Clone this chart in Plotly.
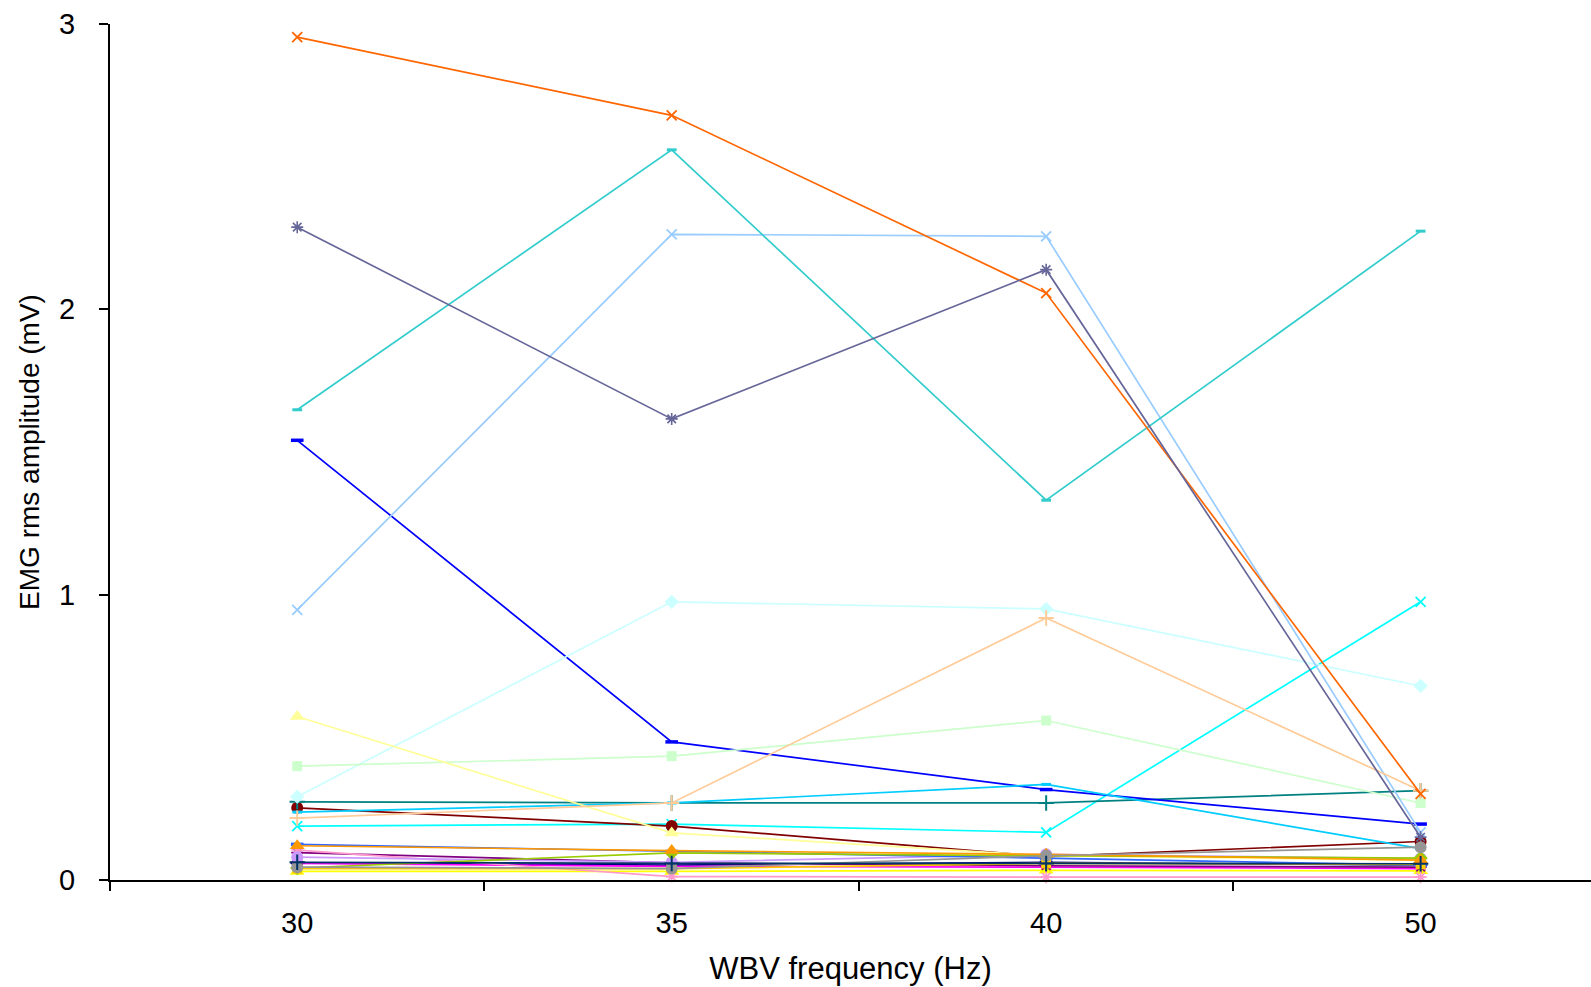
import plotly.graph_objects as go

# WBV frequency categories
frequencies = ["30", "35", "40", "50"]

# EMG rms amplitude (mV) per subject/muscle series
s01 = [0.060, 0.052, 0.062, 0.052]
s02 = [0.058, 0.048, 0.045, 0.040]
s03 = [0.030, 0.030, 0.034, 0.032]
s04 = [0.189, 0.196, 0.167, 0.975]
s05 = [0.096, 0.060, 0.050, 0.045]
s06 = [0.253, 0.189, 0.082, 0.135]
s07 = [0.274, 0.270, 0.270, 0.313]
s08 = [1.541, 0.484, 0.317, 0.196]
s09 = [0.238, 0.270, 0.335, 0.110]
s10 = [0.292, 0.975, 0.950, 0.680]
s11 = [0.399, 0.434, 0.559, 0.270]
s12 = [0.573, 0.165, 0.085, 0.070]
s13 = [0.947, 2.263, 2.256, 0.167]
s14 = [0.105, 0.012, 0.010, 0.010]
s15 = [0.080, 0.062, 0.090, 0.075]
s16 = [0.217, 0.270, 0.918, 0.313]
s17 = [0.125, 0.100, 0.075, 0.052]
s18 = [1.648, 2.559, 1.331, 2.274]
s19 = [0.042, 0.095, 0.085, 0.077]
s20 = [0.040, 0.040, 0.058, 0.055]
s21 = [0.120, 0.103, 0.090, 0.070]
s22 = [2.954, 2.680, 2.057, 0.302]
s23 = [2.288, 1.616, 2.139, 0.150]
s24 = [0.045, 0.040, 0.085, 0.115]
s25 = [0.062, 0.058, 0.058, 0.057]

series = [s01, s02, s03, s04, s05, s06, s07, s08, s09, s10, s11, s12, s13,
          s14, s15, s16, s17, s18, s19, s20, s21, s22, s23, s24, s25]

colors = ["#000080", "#FF00FF", "#FFFF00", "#00FFFF", "#800080", "#800000",
          "#008080", "#0000FF", "#00CCFF", "#CCFFFF", "#CCFFCC", "#FFFF99",
          "#99CCFF", "#FF99CC", "#CC99FF", "#FFCC99", "#3366FF", "#33CCCC",
          "#99CC00", "#FFCC00", "#FF9900", "#FF6600", "#666699", "#969696",
          "#003366"]

# marker cycle: (symbol, size, outline width)
marker_cycle = [
    ("diamond", 11, 0),
    ("square", 10, 0),
    ("triangle-up", 13, 0),
    ("x-thin", 10, 1.8),
    ("asterisk", 10, 1.6),
    ("circle", 12, 0),
    ("cross-thin", 11, 2),
    ("line-ew", 9, 3.5),
    ("line-ew", 7, 3),
]

fig = go.Figure()
for i, (vals, col) in enumerate(zip(series, colors)):
    sym, size, lw = marker_cycle[i % len(marker_cycle)]
    fig.add_trace(go.Scatter(
        x=frequencies, y=vals, mode="lines+markers",
        line=dict(color=col, width=1.7),
        marker=dict(symbol=sym, size=size, color=col,
                    line=dict(color=col, width=lw)),
        cliponaxis=False, showlegend=False,
    ))

font = "Liberation Sans, Arial, sans-serif"
fig.update_layout(
    width=1591, height=987,
    margin=dict(l=110, r=0, t=24, b=107),
    paper_bgcolor="white", plot_bgcolor="white",
    font=dict(family=font, size=29, color="black"),
    xaxis=dict(
        type="category", range=[-0.5, 3.455],
        tickson="boundaries", ticks="outside", ticklen=9, tickwidth=1.5,
        tickcolor="black", showline=True, linecolor="black", linewidth=2,
        showgrid=False, zeroline=False, ticklabelstandoff=16,
        title=dict(text="WBV frequency (Hz)", font=dict(size=31), standoff=20),
    ),
    yaxis=dict(
        range=[0, 3], tickvals=[0, 1, 2, 3], ticks="outside", ticklen=9,
        tickwidth=1.5, tickcolor="black", showline=True, linecolor="black",
        linewidth=2, showgrid=False, zeroline=False, ticklabelstandoff=18,
        title=dict(text="EMG rms amplitude (mV)", font=dict(size=28), standoff=11),
    ),
)

fig.write_html("out.html")
